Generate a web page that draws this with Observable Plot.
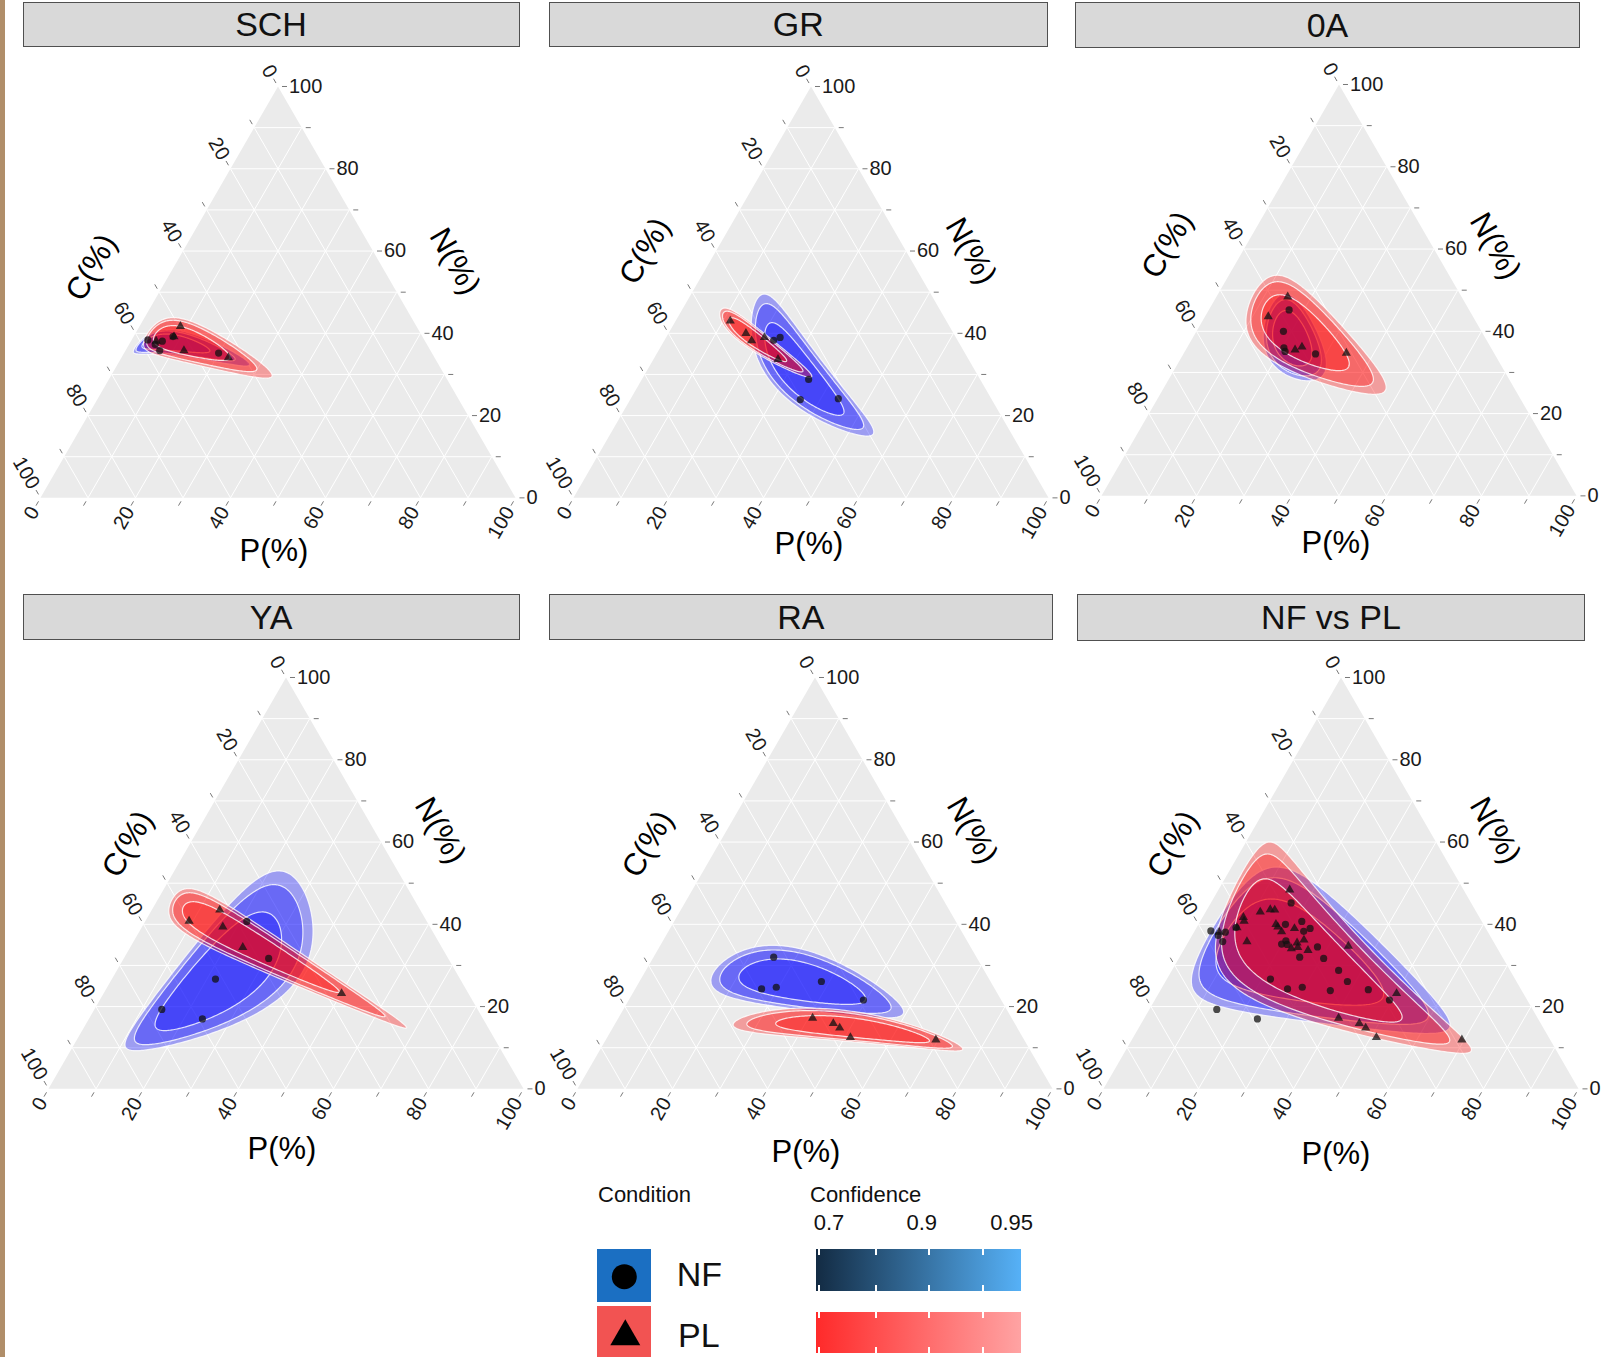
<!DOCTYPE html>
<html><head><meta charset="utf-8">
<script src="https://cdn.jsdelivr.net/npm/d3@7"></script>
<script src="https://cdn.jsdelivr.net/npm/@observablehq/plot@0.6"></script>
<style>
body{margin:0;background:#fff;font-family:"Liberation Sans",Arial,sans-serif;}
#page{position:relative;width:1604px;height:1357px;overflow:hidden;background:#fff;}
.bar{position:absolute;left:0;top:0;width:5px;height:1357px;background:#b08e69;}
.strip{position:absolute;background:#d9d9d9;border:1.5px solid #505050;box-sizing:border-box;display:flex;align-items:center;justify-content:center;font-size:34px;color:#111;}
.panel{position:absolute;}
.lg{position:absolute;color:#111;white-space:nowrap;line-height:1;}
</style></head><body><div id="page"><div class="bar"></div></div>
<script>
// ---------------- data ----------------
const facets = ["SCH", "GR", "0A", "YA", "RA", "NF vs PL"];
const conditions = ["NF", "PL"];
const confidenceLevels = [0.7, 0.9, 0.95];
const tickValues = [0, 10, 20, 30, 40, 50, 60, 70, 80, 90, 100];
const labelValues = [0, 20, 40, 60, 80, 100];
const gridValues = [10, 20, 30, 40, 50, 60, 70, 80, 90];

// each row: [C%, N%, P%]
const SCH_NF = [[58.2,38.4,3.4],[57.2,37.3,5.5],[57.0,35.8,7.2],[55.3,38.1,6.6],[52.5,39.2,8.3],[44.9,35.2,19.9]];
const SCH_PL = [[49.7,41.7,8.6],[51.9,35.8,12.3],[43.4,34.1,22.5],[52.3,39.2,8.5],[56.6,38.1,5.3]];
const GR_NF  = [[38.7,38.3,23.0],[37.0,39.0,24.0],[36.1,28.8,35.1],[40.3,23.9,35.8],[32.2,24.1,43.7]];
const GR_PL  = [[45.5,43.0,11.5],[43.7,40.0,16.3],[43.4,38.2,18.4],[40.3,39.0,20.7],[40.1,33.7,26.2]];
const OA_NF  = [[37.9,45.2,16.9],[41.7,40.0,18.3],[43.6,36.0,20.4],[43.8,35.1,21.1],[37.7,34.5,27.8]];
const OA_PL  = [[36.6,48.4,15.0],[43.1,43.6,13.3],[41.5,35.5,23.0],[39.7,36.2,24.1],[31.1,34.7,34.2]];
const YA_NF  = [[37.9,40.7,21.4],[37.8,31.7,30.5],[51.5,26.7,21.8],[66.5,19.3,14.2],[59.1,17.0,23.9]];
const YA_PL  = [[50.0,40.8,9.2],[42.2,43.5,14.3],[43.6,39.4,17.0],[41.9,34.4,23.7],[26.7,23.2,50.1]];
const RA_NF  = [[42.7,32.0,25.3],[49.1,24.3,26.6],[45.8,24.7,29.5],[35.6,26.1,38.3],[29.0,21.6,49.4]];
const RA_PL  = [[41.9,17.2,40.9],[38.2,15.9,45.9],[37.4,14.8,47.8],[36.3,12.5,51.2],[18.6,11.9,69.5]];
const ALL_NF = [...SCH_NF, ...GR_NF, ...OA_NF, ...YA_NF, ...RA_NF];
const ALL_PL = [...SCH_PL, ...GR_PL, ...OA_PL, ...YA_PL, ...RA_PL];
const groups = [[SCH_NF, SCH_PL],[GR_NF, GR_PL],[OA_NF, OA_PL],[YA_NF, YA_PL],[RA_NF, RA_PL],[ALL_NF, ALL_PL]];

// ---------------- layout ----------------
const layout = [
  {tx:277.5, ty:86,  W:475, strip:[22.5,2,519.6,47],   cN:56,   cGap:82, nN:57.5, nGap:76, pDx:-4, pDy:53},
  {tx:810,   ty:86,  W:475, strip:[549,2,1047.5,47],   cN:60,   cGap:71, nN:60,   nGap:65, pDx:-2, pDy:46},
  {tx:1338,  ty:84,  W:475, strip:[1075,2,1580,48],    cN:61,   cGap:79, nN:60.7, nGap:63, pDx:-3, pDy:47},
  {tx:285.7, ty:677.4, W:475, strip:[22.5,594,519.6,640], cN:59.5, cGap:62, nN:62.8, nGap:66, pDx:-4, pDy:60},
  {tx:814.5, ty:677.4, W:475, strip:[549,594,1052.6,640], cN:59.5, cGap:71, nN:62.8, nGap:69, pDx:-9, pDy:63},
  {tx:1340,  ty:677,   W:475, strip:[1077,594,1585,641],  cN:59.5, cGap:72, nN:62.8, nGap:66, pDx:-5, pDy:65}
];
const FONT = '"Liberation Sans", Arial, sans-serif';
const S3 = Math.sqrt(3);
const COLORS = {NF: "#0000ff", PL: "#ff0000"};

function tern(C, N, P) {
  const s = C + N + P, n = N / s, p = P / s;
  return [p + n / 2, n * S3 / 2];
}

// confidence regions (Mahalanobis ellipses in log-ratio space, chi-square df=2)
function confRegions(pts, cond) {
  const a = pts.map(([c, n, p]) => [Math.log(c / p), Math.log(n / p)]);
  const m0 = d3.mean(a, d => d[0]), m1 = d3.mean(a, d => d[1]);
  const k = a.length;
  let s11 = 0, s12 = 0, s22 = 0;
  for (const [u, v] of a) { s11 += (u - m0) ** 2; s12 += (u - m0) * (v - m1); s22 += (v - m1) ** 2; }
  s11 /= (k - 1); s12 /= (k - 1); s22 /= (k - 1);
  const l11 = Math.sqrt(s11), l21 = s12 / l11, l22 = Math.sqrt(Math.max(s22 - l21 * l21, 1e-12));
  const out = [];
  const levels = confidenceLevels.slice().sort((x, y) => y - x);
  for (const lev of levels) {
    const r = Math.sqrt(-2 * Math.log(1 - lev));
    for (let i = 0; i <= 240; i++) {
      const t = 2 * Math.PI * i / 240;
      const u = m0 + r * l11 * Math.cos(t);
      const v = m1 + r * (l21 * Math.cos(t) + l22 * Math.sin(t));
      const [x, y] = tern(Math.exp(u), Math.exp(v), 1);
      out.push({x, y, key: cond + lev});
    }
  }
  return out;
}

function makePanel(i) {
  const L = layout[i];
  const {tx, ty, W} = L;
  const H = W * S3 / 2;
  const mL = 130, mR = 130, mT = 45, mB = 95;
  const [nf, pl] = groups[i];
  const u = 1 / W; // one pixel in data units

  const tri = [tern(100,0,0), tern(0,0,100), tern(0,100,0), tern(100,0,0)].map(([x,y]) => ({x, y}));
  const grid = [];
  for (const k of gridValues) {
    grid.push([tern(100-k,k,0), tern(0,k,100-k)]);
    grid.push([tern(100-k,0,k), tern(0,100-k,k)]);
    grid.push([tern(k,100-k,0), tern(k,0,100-k)]);
  }
  const ticks = [];
  for (const k of tickValues) {
    ticks.push({axis:"N", k, pt: tern(0,k,100-k), dir:[1,0]});
    ticks.push({axis:"C", k, pt: tern(k,100-k,0), dir:[-0.5, S3/2]});
    ticks.push({axis:"P", k, pt: tern(100-k,0,k), dir:[-0.5,-S3/2]});
  }
  const labs = ticks.filter(d => labelValues.includes(d.k));
  const off = (d, px, j) => d.pt[j] + d.dir[j] * px * u;

  const cT = tern(100 - L.cN, L.cN, 0), nT = tern(0, L.nN, 100 - L.nN), pT = tern(50, 0, 50);
  const nfPts = nf.map(d => { const [x,y] = tern(...d); return {x, y}; });
  const plPts = pl.map(d => { const [x,y] = tern(...d); return {x, y}; });

  const svg = Plot.plot({
    width: mL + W + mR, height: mT + H + mB, margin: 0,
    style: `overflow:visible;background:transparent;max-width:none;font-family:${FONT};`,
    x: {domain: [0, 1], range: [mL, mL + W], axis: null},
    y: {domain: [0, S3 / 2], range: [mT + H, mT], axis: null},
    marks: [
      Plot.line(tri, {x: "x", y: "y", fill: "#ebebeb", stroke: "none"}),
      Plot.link(grid, {x1: d => d[0][0], y1: d => d[0][1], x2: d => d[1][0], y2: d => d[1][1], stroke: "white", strokeWidth: 1}),
      Plot.link(ticks, {x1: d => off(d, 4, 0), y1: d => off(d, 4, 1), x2: d => off(d, 9, 0), y2: d => off(d, 9, 1), stroke: "#777", strokeWidth: 1}),
      Plot.text(labs.filter(d => d.axis === "N"), {x: d => d.pt[0], y: d => d.pt[1], text: d => String(d.k), dx: 11, textAnchor: "start", fontSize: 20, fill: "#1a1a1a"}),
      Plot.text(labs.filter(d => d.axis === "C"), {x: d => off(d, 12, 0), y: d => off(d, 12, 1), text: d => String(d.k), rotate: 60, textAnchor: "end", fontSize: 20, fill: "#1a1a1a"}),
      Plot.text(labs.filter(d => d.axis === "P"), {x: d => off(d, 12, 0), y: d => off(d, 12, 1), text: d => String(d.k), rotate: -60, textAnchor: "end", fontSize: 20, fill: "#1a1a1a"}),
      Plot.text([0], {x: cT[0] - L.cGap * u, y: cT[1], text: ["C(%)"], rotate: -60, fontSize: 31, fill: "#000"}),
      Plot.text([0], {x: nT[0] + L.nGap * u, y: nT[1], text: ["N(%)"], rotate: 60, fontSize: 31, fill: "#000"}),
      Plot.text([0], {x: pT[0] + L.pDx * u, y: pT[1] - L.pDy * u, text: ["P(%)"], fontSize: 31, fill: "#000"}),
      Plot.line(confRegions(nf, "NF"), {x: "x", y: "y", z: "key", fill: COLORS.NF, fillOpacity: 0.33, stroke: "white", strokeOpacity: 0.8, strokeWidth: 1.2}),
      Plot.line(confRegions(pl, "PL"), {x: "x", y: "y", z: "key", fill: COLORS.PL, fillOpacity: 0.33, stroke: "white", strokeOpacity: 0.8, strokeWidth: 1.2}),
      Plot.dot(nfPts, {x: "x", y: "y", r: 3.6, symbol: "circle", fill: "#111", fillOpacity: 0.75, stroke: "none"}),
      Plot.dot(plPts, {x: "x", y: "y", r: 3.4, symbol: "triangle", fill: "#111", fillOpacity: 0.75, stroke: "none"})
    ]
  });
  const div = document.createElement("div");
  div.className = "panel";
  div.style.left = (tx - W / 2 - mL) + "px";
  div.style.top = (ty - mT) + "px";
  div.style.width = (mL + W + mR) + "px";
  div.appendChild(svg);
  return div;
}

const page = document.getElementById("page");
facets.forEach((name, i) => {
  const [x0, y0, x1, y1] = layout[i].strip;
  const s = document.createElement("div");
  s.className = "strip";
  Object.assign(s.style, {left: x0 + "px", top: y0 + "px", width: (x1 - x0) + "px", height: (y1 - y0) + "px"});
  s.textContent = name;
  page.appendChild(s);
  page.appendChild(makePanel(i));
});

// ---------------- legend ----------------
function lg(html, left, top, size, extra) {
  const d = document.createElement("div");
  d.className = "lg";
  d.style.left = left + "px"; d.style.top = top + "px"; d.style.fontSize = size + "px";
  if (extra) Object.assign(d.style, extra);
  d.innerHTML = html;
  page.appendChild(d);
  return d;
}
lg("Condition", 598, 1184, 22);
lg("Confidence", 810, 1184, 22);
const labPos = [829, 921.7, 1011.7];
confidenceLevels.forEach((v, i) => lg(String(v), labPos[i], 1212, 22, {transform: "translateX(-50%)"}));
lg("", 816, 1249.3, 10, {width: "204.7px", height: "41.4px", background: "linear-gradient(to right,#132B43,#56B1F7)"});
lg("", 816, 1311.7, 10, {width: "204.7px", height: "41.6px", background: "linear-gradient(to right,#ff2a2a,#ffa3a3)"});
[819.3, 876, 929.3, 982.7].forEach(x => {
  for (const t of [1249.3, 1284.7, 1311.7, 1347.3]) lg("", x - 1, t, 10, {width: "2px", height: "6px", background: "#fff"});
});
lg("", 596.7, 1249, 10, {width: "54px", height: "52.7px", background: "#1b6fc2"});
lg("", 596.7, 1305.7, 10, {width: "54px", height: "52px", background: "#f25352"});
lg('<svg width="54" height="53"><circle cx="27.3" cy="27.7" r="12.5" fill="#000"/></svg>', 596.7, 1249, 10);
lg('<svg width="54" height="52"><polygon points="13.3,39.3 43.3,39.3 28.3,13.3" fill="#000"/></svg>', 596.7, 1305.7, 10);
lg(conditions[0], 676.7, 1257, 34);
lg(conditions[1], 678, 1318, 34);
</script></body></html>
